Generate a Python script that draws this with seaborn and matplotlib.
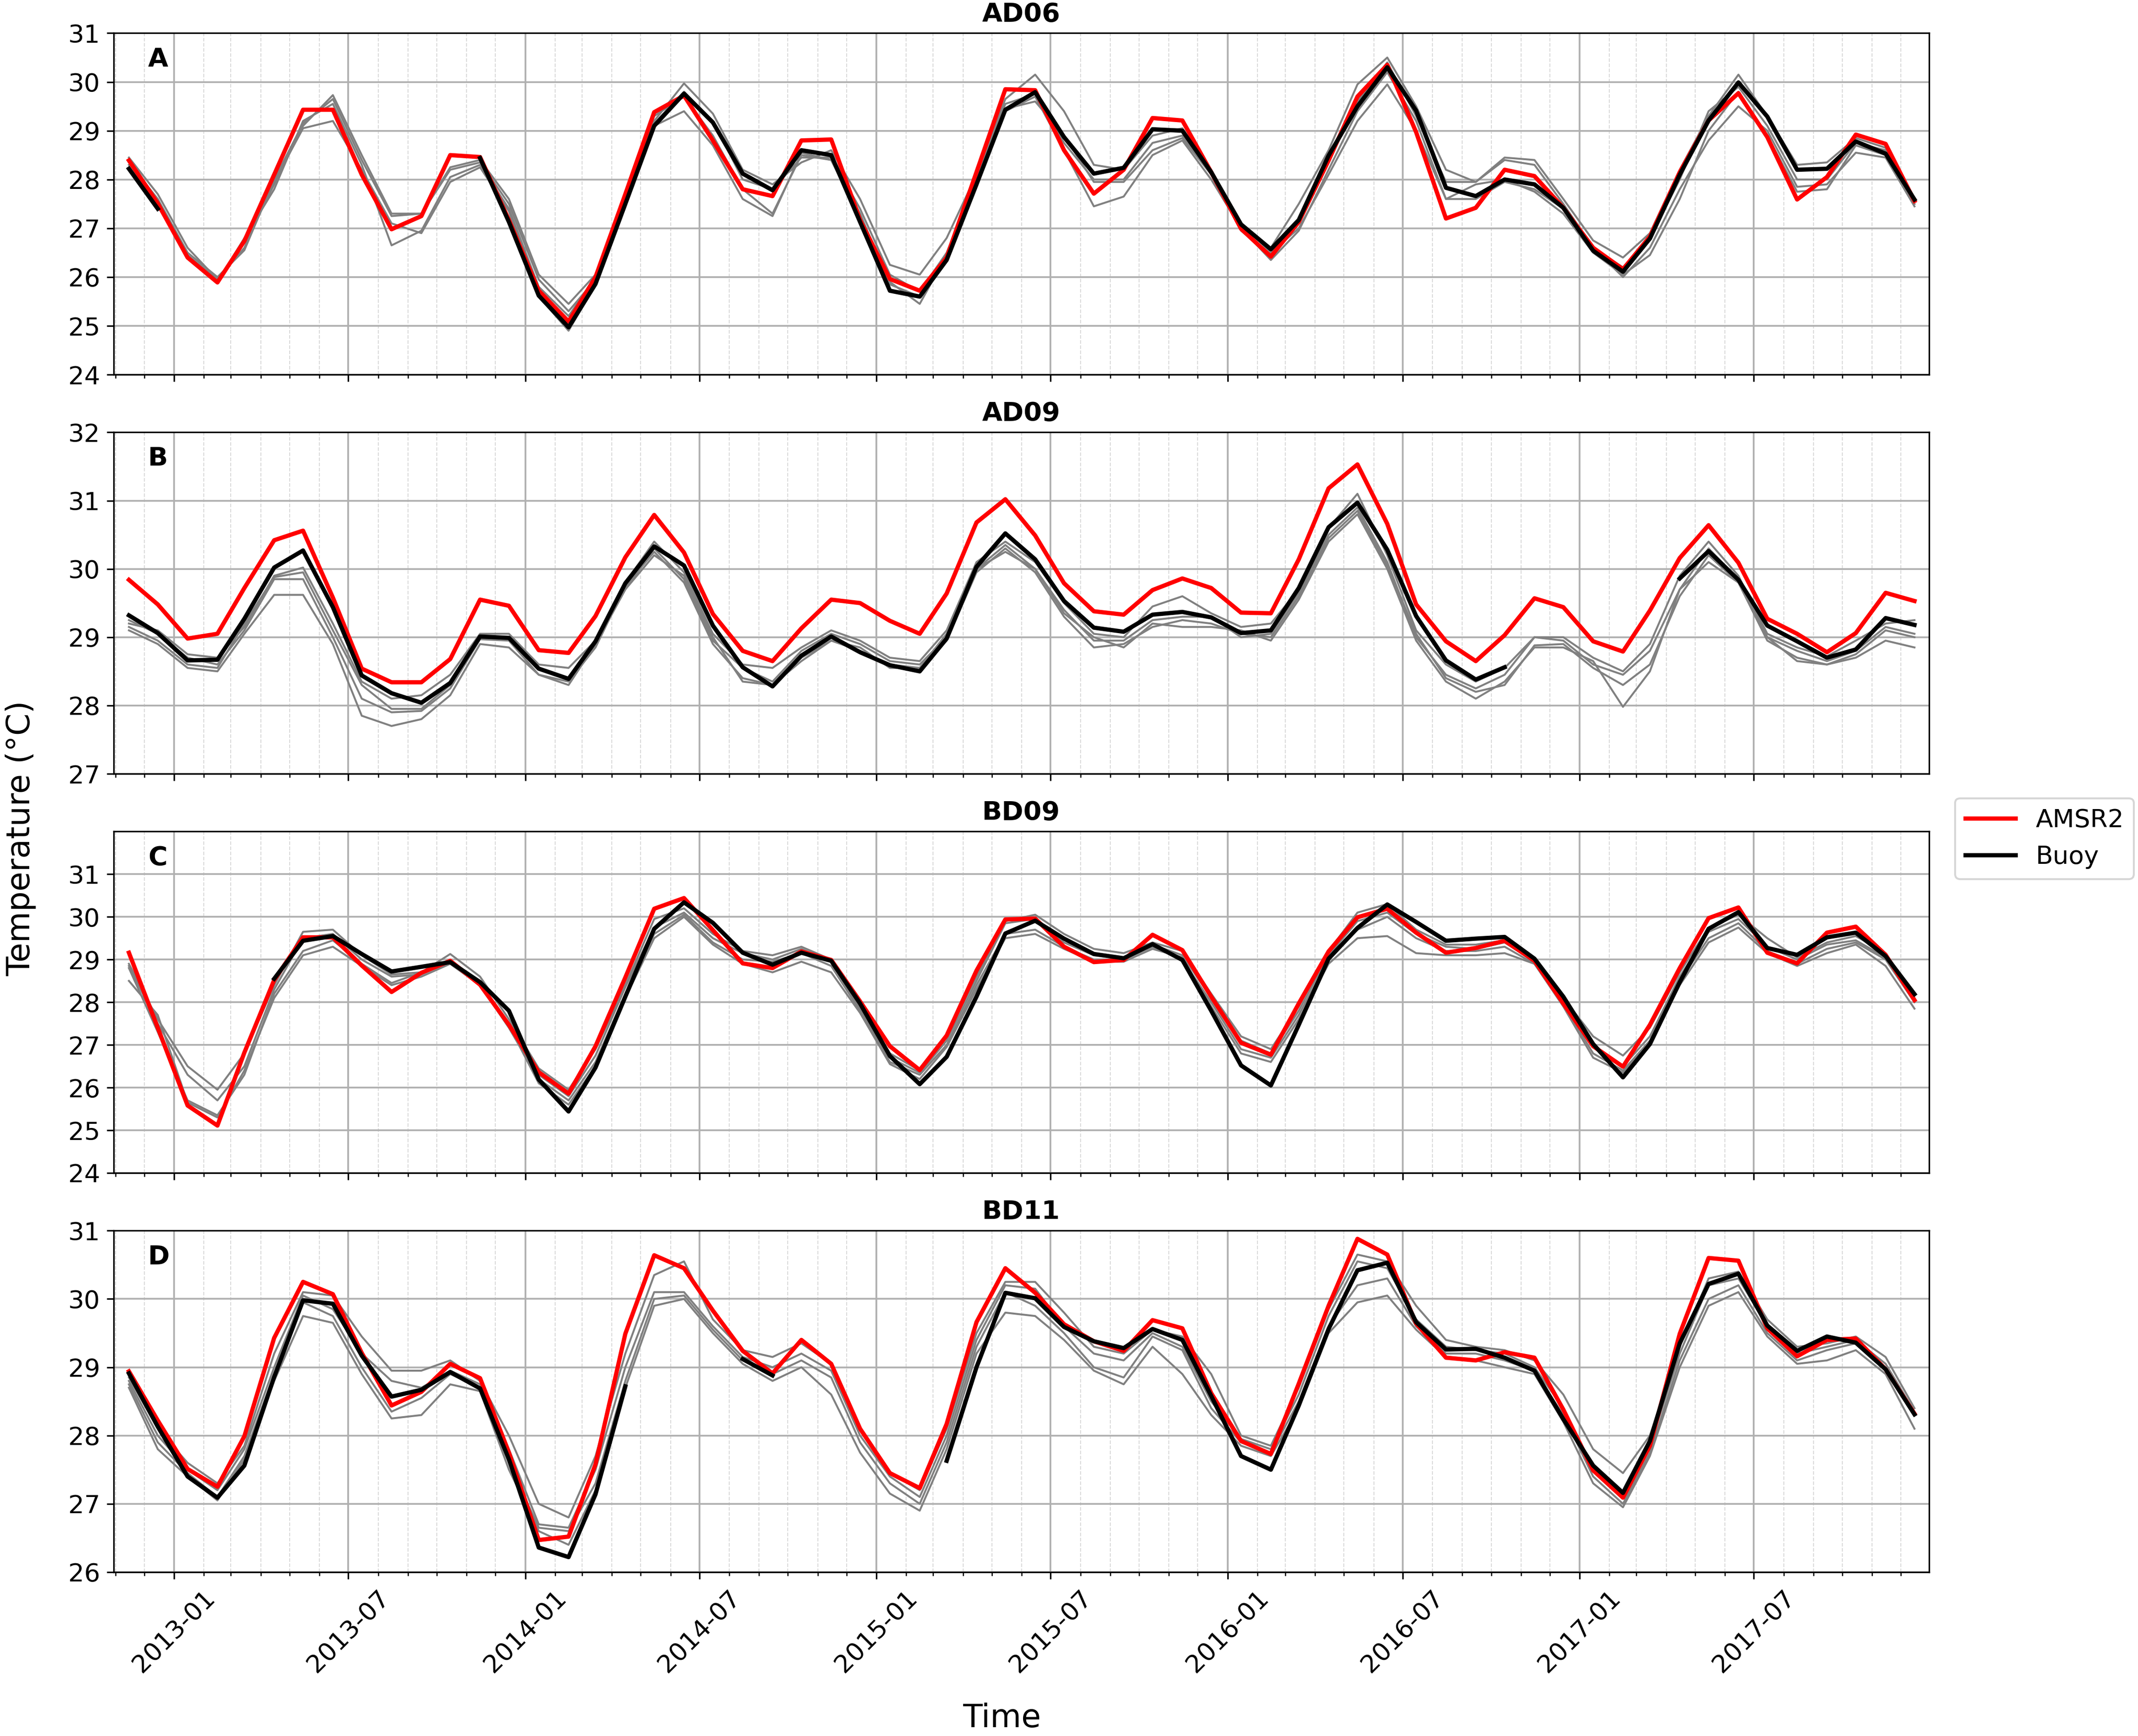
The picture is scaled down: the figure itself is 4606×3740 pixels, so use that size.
import numpy as np
import pandas as pd
import seaborn as sns
import matplotlib.pyplot as plt
import matplotlib.dates as mdates
from matplotlib.lines import Line2D

nan = np.nan

# monthly means, plotted mid-month, Nov 2012 .. Dec 2017
months = pd.date_range('2012-11-01', periods=62, freq='MS') + pd.Timedelta(days=14)

# ---- AD06 ----
ad06_amsr2 = [28.39, 27.51, 26.40, 25.89, 26.74, 28.10, 29.43, 29.43, 28.10, 26.98, 27.25, 28.50, 28.46, 27.17, 25.72, 25.09,
              26.00, 27.70, 29.38, 29.72, 28.80, 27.80, 27.66, 28.80, 28.82, 27.17, 25.96, 25.72, 26.40, 28.15, 29.85, 29.83,
              28.60, 27.71, 28.20, 29.26, 29.21, 28.15, 26.99, 26.42, 27.13, 28.39, 29.70, 30.35, 28.97, 27.20, 27.42, 28.20,
              28.07, 27.42, 26.60, 26.16, 26.83, 28.15, 29.21, 29.77, 28.87, 27.59, 28.05, 28.92, 28.73, 27.56]
ad06_buoy = [28.22, 27.40, nan, nan, nan, nan, nan, nan, nan, nan, nan, nan, 28.44, 27.13, 25.62, 24.97,
             25.86, 27.50, 29.10, 29.76, 29.17, 28.12, 27.78, 28.60, 28.50, 27.13, 25.72, 25.60, 26.35, 27.90, 29.43, 29.79,
             28.87, 28.12, 28.24, 29.03, 29.00, 28.15, 27.08, 26.57, 27.17, 28.49, 29.50, 30.30, 29.41, 27.83, 27.66, 28.00,
             27.90, 27.42, 26.54, 26.11, 26.79, 28.10, 29.21, 29.99, 29.29, 28.20, 28.22, 28.78, 28.53, 27.59]
ad06_other1 = [28.45, 27.70, 26.60, 25.95, 26.70, 27.90, 29.10, 29.73, 28.50, 27.30, 27.30, 28.25, 28.40, 27.60, 26.05, 25.45,
               26.05, 27.60, 29.20, 29.97, 29.35, 28.20, 27.90, 28.35, 28.60, 27.60, 26.25, 26.05, 26.80, 28.10, 29.65, 30.15,
               29.40, 28.30, 28.20, 28.90, 29.05, 28.20, 27.05, 26.60, 27.50, 28.60, 29.95, 30.50, 29.50, 28.20, 27.95, 28.45,
               28.40, 27.60, 26.75, 26.40, 26.90, 28.20, 29.30, 30.15, 29.30, 28.30, 28.35, 28.85, 28.65, 27.60]
ad06_other2 = [28.35, 27.60, 26.50, 26.00, 26.55, 28.00, 29.15, 29.65, 28.40, 27.25, 27.30, 28.20, 28.35, 27.50, 25.95, 25.30,
               25.95, 27.70, 29.15, 29.80, 29.20, 28.00, 27.80, 28.45, 28.45, 27.40, 26.05, 25.70, 26.50, 28.00, 29.55, 29.75,
               28.75, 28.00, 28.00, 28.75, 28.90, 28.10, 26.95, 26.45, 27.10, 28.40, 29.60, 30.40, 29.30, 27.95, 27.95, 28.40,
               28.30, 27.50, 26.60, 26.20, 26.80, 28.00, 29.40, 29.90, 29.10, 28.00, 28.00, 28.75, 28.60, 27.50]
ad06_other3 = [28.30, 27.50, 26.40, 25.90, 26.80, 27.80, 29.20, 29.55, 28.30, 26.65, 26.95, 28.05, 28.30, 27.40, 25.80, 25.20,
               26.00, 27.50, 29.30, 29.70, 28.90, 27.80, 27.30, 28.50, 28.40, 27.30, 25.85, 25.60, 26.40, 27.95, 29.40, 29.70,
               28.60, 27.45, 27.65, 28.50, 28.80, 28.00, 27.00, 26.35, 26.95, 28.20, 29.40, 30.20, 29.20, 27.60, 27.90, 28.00,
               27.75, 27.30, 26.50, 26.05, 26.45, 27.60, 29.00, 29.80, 28.90, 27.75, 27.80, 28.70, 28.50, 27.50]
ad06_other4 = [28.20, 27.45, 26.45, 25.95, 26.60, 27.95, 29.05, 29.20, 28.20, 27.10, 26.90, 27.95, 28.25, 27.35, 25.60, 24.90,
               25.85, 27.55, 29.10, 29.40, 28.70, 27.60, 27.25, 28.55, 28.40, 27.20, 25.90, 25.45, 26.45, 27.90, 29.45, 29.60,
               28.90, 27.95, 27.95, 28.60, 28.85, 28.10, 27.10, 26.50, 27.00, 28.10, 29.20, 29.95, 29.00, 27.60, 27.60, 27.95,
               27.80, 27.40, 26.60, 26.00, 26.60, 27.80, 28.80, 29.50, 29.00, 27.85, 27.90, 28.55, 28.45, 27.45]

# ---- AD09 ----
ad09_amsr2 = [29.84, 29.48, 28.98, 29.05, 29.72, 30.42, 30.56, 29.58, 28.54, 28.34, 28.34, 28.68, 29.55, 29.46, 28.81, 28.77,
              29.31, 30.17, 30.79, 30.24, 29.34, 28.80, 28.65, 29.13, 29.55, 29.50, 29.24, 29.05, 29.64, 30.68, 31.02, 30.49,
              29.79, 29.38, 29.33, 29.69, 29.86, 29.72, 29.36, 29.35, 30.14, 31.18, 31.53, 30.66, 29.48, 28.94, 28.65, 29.03,
              29.57, 29.44, 28.94, 28.79, 29.39, 30.16, 30.64, 30.09, 29.27, 29.05, 28.78, 29.06, 29.65, 29.53]
ad09_buoy = [29.32, 29.06, 28.66, 28.67, 29.27, 30.02, 30.27, 29.44, 28.44, 28.18, 28.04, 28.33, 29.01, 28.99, 28.54, 28.39,
             28.94, 29.79, 30.33, 30.05, 29.17, 28.56, 28.28, 28.73, 29.01, 28.78, 28.59, 28.50, 28.98, 30.03, 30.52, 30.14,
             29.53, 29.14, 29.08, 29.33, 29.37, 29.29, 29.06, 29.10, 29.72, 30.61, 30.97, 30.28, 29.31, 28.66, 28.38, 28.56,
             nan, nan, nan, nan, nan, 29.86, 30.26, 29.84, 29.17, 28.94, 28.70, 28.82, 29.28, 29.18]
ad09_other1 = [29.20, 29.10, 28.75, 28.70, 29.15, 29.90, 30.02, 29.20, 28.35, 28.10, 28.15, 28.45, 29.05, 29.05, 28.60, 28.55,
               28.95, 29.80, 30.40, 29.95, 29.05, 28.60, 28.55, 28.85, 29.10, 28.95, 28.70, 28.65, 29.10, 30.10, 30.40, 30.10,
               29.50, 29.05, 29.00, 29.45, 29.60, 29.35, 29.15, 29.20, 29.70, 30.60, 31.10, 30.20, 29.10, 28.60, 28.35, 28.55,
               29.00, 29.00, 28.70, 28.50, 28.90, 29.90, 30.40, 29.90, 29.05, 28.85, 28.72, 28.95, 29.20, 29.25]
ad09_other2 = [29.15, 28.95, 28.60, 28.55, 29.20, 29.88, 29.95, 29.10, 28.30, 27.95, 27.95, 28.30, 29.02, 28.98, 28.55, 28.40,
               28.90, 29.70, 30.30, 29.85, 28.95, 28.55, 28.35, 28.80, 29.05, 28.90, 28.65, 28.60, 29.00, 30.00, 30.35, 30.00,
               29.40, 28.95, 28.95, 29.25, 29.30, 29.30, 29.00, 29.05, 29.65, 30.50, 30.90, 30.10, 29.00, 28.45, 28.25, 28.45,
               29.00, 28.95, 28.60, 28.45, 28.80, 29.70, 30.30, 29.85, 29.00, 28.80, 28.65, 28.80, 29.15, 29.05]
ad09_other3 = [29.25, 29.05, 28.70, 28.60, 29.10, 29.85, 29.85, 29.00, 28.10, 27.90, 27.92, 28.25, 28.97, 28.95, 28.45, 28.35,
               28.85, 29.75, 30.25, 29.80, 28.90, 28.40, 28.30, 28.70, 28.95, 28.80, 28.60, 28.55, 28.95, 29.95, 30.30, 29.95,
               29.30, 28.85, 28.90, 29.15, 29.25, 29.20, 29.05, 29.00, 29.60, 30.45, 30.85, 30.05, 29.05, 28.40, 28.20, 28.30,
               28.88, 28.90, 28.55, 28.30, 28.60, 29.60, 30.20, 29.80, 28.95, 28.70, 28.60, 28.75, 29.10, 29.00]
ad09_other4 = [29.10, 28.90, 28.55, 28.50, 29.05, 29.62, 29.62, 28.90, 27.85, 27.70, 27.80, 28.15, 28.90, 28.85, 28.45, 28.30,
               28.90, 29.70, 30.20, 29.90, 29.00, 28.35, 28.30, 28.65, 28.95, 28.85, 28.55, 28.55, 29.05, 30.00, 30.25, 30.00,
               29.35, 29.00, 28.85, 29.20, 29.15, 29.15, 29.10, 28.95, 29.55, 30.40, 30.80, 30.00, 28.95, 28.35, 28.10, 28.35,
               28.85, 28.85, 28.65, 27.98, 28.50, 29.70, 30.10, 29.80, 29.00, 28.65, 28.60, 28.70, 28.95, 28.85]

# ---- BD09 ----
bd09_amsr2 = [29.16, 27.40, 25.58, 25.11, 26.82, 28.52, 29.52, 29.52, 28.86, 28.24, 28.69, 28.97, 28.41, 27.47, 26.36, 25.86,
              26.97, 28.58, 30.19, 30.44, 29.69, 28.91, 28.80, 29.19, 28.99, 28.02, 26.97, 26.41, 27.22, 28.74, 29.94, 29.96,
              29.30, 28.94, 28.99, 29.58, 29.22, 28.13, 27.05, 26.77, 27.97, 29.19, 29.99, 30.19, 29.63, 29.16, 29.27, 29.44,
              28.97, 27.97, 26.97, 26.49, 27.47, 28.80, 29.97, 30.22, 29.16, 28.91, 29.63, 29.77, 29.11, 28.05]
bd09_buoy = [nan, nan, nan, nan, nan, 28.55, 29.44, 29.55, 29.13, 28.72, 28.83, 28.94, 28.47, 27.80, 26.19, 25.44,
             26.47, 28.13, 29.72, 30.34, 29.86, 29.16, 28.88, 29.16, 28.97, 27.97, 26.74, 26.08, 26.72, 28.13, 29.61, 29.91,
             29.49, 29.13, 29.03, 29.36, 28.99, 27.80, 26.52, 26.05, 27.47, 29.02, 29.74, 30.29, 29.88, 29.44, 29.49, 29.53,
             29.02, 28.13, 27.02, 26.24, 27.02, 28.47, 29.72, 30.11, 29.27, 29.11, 29.52, 29.63, 29.08, 28.19]
bd09_other1 = [28.90, 27.60, 26.50, 25.95, 26.80, 28.40, 29.65, 29.70, 29.10, 28.65, 28.70, 29.13, 28.60, 27.60, 26.45, 25.95,
               26.90, 28.40, 29.95, 30.20, 29.60, 29.20, 29.10, 29.30, 29.00, 27.95, 26.80, 26.40, 27.20, 28.60, 29.90, 30.05,
               29.60, 29.25, 29.15, 29.40, 29.20, 28.20, 27.20, 26.90, 27.90, 29.20, 30.10, 30.30, 29.70, 29.35, 29.35, 29.45,
               29.00, 28.10, 27.20, 26.75, 27.40, 28.70, 29.75, 30.05, 29.50, 29.05, 29.40, 29.55, 29.15, 28.15]
bd09_other2 = [28.85, 27.50, 26.30, 25.70, 26.50, 28.30, 29.50, 29.60, 29.00, 28.60, 28.65, 28.95, 28.45, 27.50, 26.30, 25.80,
               26.75, 28.35, 29.75, 30.10, 29.50, 29.15, 29.00, 29.25, 28.95, 27.85, 26.70, 26.35, 27.10, 28.50, 29.85, 29.95,
               29.40, 29.10, 29.05, 29.35, 29.10, 28.10, 27.10, 26.80, 27.80, 29.10, 29.90, 30.10, 29.60, 29.30, 29.25, 29.40,
               28.95, 28.00, 27.00, 26.50, 27.20, 28.60, 29.65, 29.95, 29.30, 29.00, 29.35, 29.45, 29.05, 28.10]
bd09_other3 = [28.80, 27.30, 25.70, 25.35, 26.30, 28.20, 29.20, 29.45, 28.90, 28.45, 28.70, 28.90, 28.40, 27.40, 26.20, 25.70,
               26.60, 28.20, 29.60, 30.05, 29.40, 29.00, 28.95, 29.15, 28.85, 27.80, 26.60, 26.30, 27.00, 28.40, 29.60, 29.70,
               29.30, 29.00, 29.00, 29.30, 29.00, 28.00, 26.90, 26.70, 27.70, 29.00, 29.70, 30.00, 29.50, 29.20, 29.20, 29.30,
               28.90, 27.95, 26.80, 26.40, 27.10, 28.50, 29.50, 29.85, 29.20, 28.90, 29.25, 29.40, 29.00, 28.00]
bd09_other4 = [28.50, 27.70, 25.65, 25.30, 26.40, 28.10, 29.10, 29.30, 28.85, 28.40, 28.60, 28.90, 28.40, 27.45, 26.10, 25.60,
               26.50, 28.10, 29.50, 30.00, 29.35, 28.90, 28.70, 28.95, 28.70, 27.75, 26.55, 26.20, 26.95, 28.30, 29.50, 29.60,
               29.25, 28.95, 28.95, 29.25, 29.05, 27.90, 26.80, 26.60, 27.60, 28.90, 29.50, 29.55, 29.15, 29.10, 29.10, 29.15,
               28.90, 27.90, 26.70, 26.35, 27.05, 28.40, 29.40, 29.75, 29.15, 28.85, 29.15, 29.35, 28.85, 27.85]

# ---- BD11 ----
bd11_amsr2 = [28.94, 28.22, 27.51, 27.25, 27.99, 29.43, 30.25, 30.07, 29.21, 28.44, 28.64, 29.05, 28.84, 27.75, 26.47, 26.52,
              27.58, 29.49, 30.64, 30.45, 29.83, 29.24, 28.91, 29.40, 29.05, 28.10, 27.45, 27.23, 28.17, 29.66, 30.45, 30.09,
              29.63, 29.38, 29.24, 29.69, 29.57, 28.62, 27.92, 27.73, 28.76, 29.90, 30.88, 30.65, 29.64, 29.14, 29.10, 29.22,
              29.14, 28.38, 27.49, 27.09, 27.85, 29.49, 30.60, 30.56, 29.57, 29.16, 29.40, 29.42, 28.97, 28.32]
bd11_buoy = [28.91, 28.13, 27.40, 27.09, 27.56, 28.86, 29.98, 29.93, 29.17, 28.57, 28.67, 28.93, 28.69, 27.65, 26.36, 26.22,
             27.14, 28.72, nan, nan, nan, 29.12, 28.88, nan, nan, nan, nan, nan, 27.63, 29.00, 30.09, 30.01,
             29.59, 29.38, 29.28, 29.56, 29.40, 28.58, 27.70, 27.50, 28.44, 29.56, 30.42, 30.53, 29.66, 29.26, 29.27, 29.14,
             28.95, 28.24, 27.56, 27.16, 27.92, 29.35, 30.22, 30.37, 29.61, 29.24, 29.45, 29.36, 28.97, 28.31]
bd11_other1 = [28.85, 28.10, 27.60, 27.30, 27.85, 29.20, 30.10, 30.05, 29.45, 28.95, 28.95, 29.10, 28.80, 28.00, 27.00, 26.80,
               27.70, 29.20, 30.35, 30.55, 29.70, 29.25, 29.15, 29.35, 29.05, 28.10, 27.45, 27.20, 28.10, 29.50, 30.25, 30.25,
               29.80, 29.30, 29.20, 29.55, 29.45, 28.90, 28.00, 27.85, 28.70, 29.85, 30.65, 30.55, 29.90, 29.40, 29.30, 29.25,
               29.10, 28.60, 27.80, 27.45, 28.00, 29.30, 30.30, 30.40, 29.70, 29.30, 29.35, 29.45, 29.15, 28.40]
bd11_other2 = [28.80, 28.00, 27.50, 27.20, 27.80, 29.00, 30.05, 29.85, 29.20, 28.80, 28.70, 28.95, 28.75, 27.80, 26.70, 26.65,
               27.50, 29.00, 30.10, 30.10, 29.60, 29.15, 29.00, 29.20, 28.95, 28.00, 27.40, 27.10, 28.00, 29.40, 30.20, 30.15,
               29.60, 29.20, 29.10, 29.50, 29.30, 28.50, 27.95, 27.80, 28.60, 29.75, 30.55, 30.45, 29.70, 29.30, 29.25, 29.20,
               29.00, 28.40, 27.50, 27.10, 27.85, 29.20, 30.20, 30.30, 29.60, 29.20, 29.30, 29.40, 29.05, 28.35]
bd11_other3 = [28.75, 27.90, 27.45, 27.10, 27.70, 28.90, 29.95, 29.75, 29.00, 28.35, 28.55, 28.90, 28.70, 27.60, 26.65, 26.60,
               27.30, 28.80, 30.00, 30.05, 29.55, 29.10, 28.90, 29.10, 28.85, 27.90, 27.30, 27.00, 27.90, 29.30, 30.10, 29.90,
               29.50, 29.00, 28.85, 29.45, 29.25, 28.40, 27.90, 27.75, 28.50, 29.60, 30.20, 30.30, 29.60, 29.20, 29.20, 29.10,
               28.95, 28.30, 27.40, 27.00, 27.75, 29.10, 30.00, 30.20, 29.50, 29.10, 29.25, 29.35, 28.95, 28.30]
bd11_other4 = [28.70, 27.80, 27.40, 27.05, 27.65, 28.80, 29.75, 29.65, 28.90, 28.25, 28.30, 28.75, 28.65, 27.50, 26.60, 26.40,
               27.20, 28.70, 29.90, 30.00, 29.50, 29.05, 28.80, 29.00, 28.60, 27.75, 27.15, 26.90, 27.80, 29.20, 29.80, 29.75,
               29.40, 28.95, 28.75, 29.30, 28.90, 28.30, 27.85, 27.70, 28.40, 29.50, 29.95, 30.05, 29.55, 29.15, 29.10, 29.00,
               28.90, 28.20, 27.30, 26.95, 27.70, 29.00, 29.90, 30.10, 29.45, 29.05, 29.10, 29.25, 28.90, 28.10]

stations = ['AD06', 'AD09', 'BD09', 'BD11']
panel_tags = ['A', 'B', 'C', 'D']
amsr2 = [ad06_amsr2, ad09_amsr2, bd09_amsr2, bd11_amsr2]
buoy = [ad06_buoy, ad09_buoy, bd09_buoy, bd11_buoy]
others = [[ad06_other1, ad06_other2, ad06_other3, ad06_other4],
          [ad09_other1, ad09_other2, ad09_other3, ad09_other4],
          [bd09_other1, bd09_other2, bd09_other3, bd09_other4],
          [bd11_other1, bd11_other2, bd11_other3, bd11_other4]]
ylims = [(24, 31), (27, 32), (24, 32), (26, 31)]
yticks = [range(24, 32), range(27, 33), range(24, 32), range(26, 32)]


def draw_series(ax, values, color, lw, z):
    # seaborn drops NaNs and would bridge the gaps, so plot each run separately
    s = pd.Series(values, index=months, dtype=float)
    run_id = s.isna().cumsum()
    valid = s.notna()
    for _, seg in s[valid].groupby(run_id[valid]):
        sns.lineplot(x=seg.index, y=seg.values, ax=ax, color=color, linewidth=lw,
                     zorder=z, estimator=None, legend=False)


fig, axes = plt.subplots(4, 1, figsize=(4606 / 300, 3740 / 300), dpi=300, sharex=True)
fig.subplots_adjust(left=0.0531, right=0.9022, top=0.9809, bottom=0.0944, hspace=0.169)

for k, ax in enumerate(axes):
    for g in others[k]:
        draw_series(ax, g, 'gray', 1.0, 2)
    draw_series(ax, amsr2[k], 'red', 2.2, 3)
    draw_series(ax, buoy[k], 'black', 2.2, 4)

    ax.set_ylim(*ylims[k])
    ax.set_yticks(list(yticks[k]))
    ax.set_title(stations[k], fontsize=13.5, fontweight='bold')
    ax.text(0.019, 0.96, panel_tags[k], transform=ax.transAxes, fontsize=13.5,
            fontweight='bold', ha='left', va='top')
    ax.set_xlabel('')
    ax.set_ylabel('')

    ax.xaxis.set_major_locator(mdates.MonthLocator(bymonth=[1, 7]))
    ax.xaxis.set_major_formatter(mdates.DateFormatter('%Y-%m'))
    ax.xaxis.set_minor_locator(mdates.MonthLocator())
    ax.grid(which='major', color='#b0b0b0', linewidth=0.9)
    ax.grid(which='minor', axis='x', color='#dadada', linestyle='--', linewidth=0.5)
    ax.set_axisbelow(True)
    ax.tick_params(axis='both', which='major', labelsize=13)
    ax.set_xlim(months[0] - pd.Timedelta(days=16), months[-1] + pd.Timedelta(days=15))

for lab in axes[-1].get_xticklabels():
    lab.set_rotation(45)
    lab.set_ha('center')

handles = [Line2D([], [], color='red', linewidth=2.2), Line2D([], [], color='black', linewidth=2.2)]
fig.legend(handles, ['AMSR2', 'Buoy'], loc='center left', bbox_to_anchor=(0.9145, 0.5169),
           fontsize=13, borderaxespad=0)

fig.text(0.4687, 0.0104, 'Time', ha='center', va='center', fontsize=16.5)
fig.text(0.0096, 0.517, 'Temperature (°C)', ha='center', va='center', rotation=90, fontsize=16.5)

fig.savefig('out.png', dpi=300, facecolor='white')
